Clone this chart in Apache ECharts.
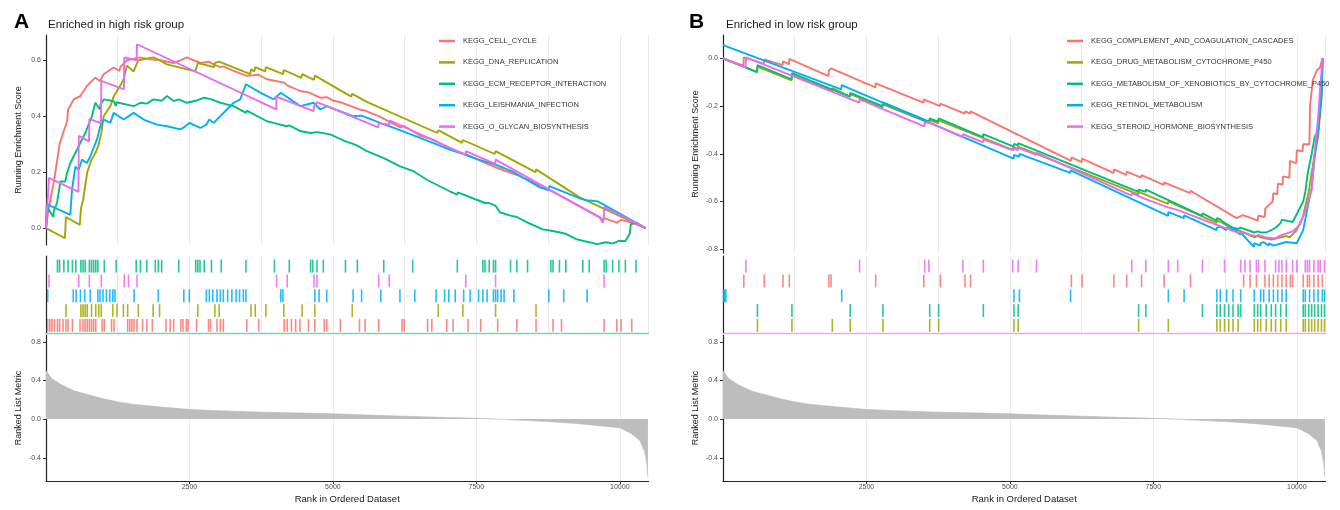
<!DOCTYPE html>
<html><head><meta charset="utf-8">
<script src="https://cdn.jsdelivr.net/npm/echarts@6/dist/echarts.min.js"></script>
<style>html,body{margin:0;padding:0;background:#fff}#c{width:1340px;height:510px}</style>
</head><body><div id="c"></div><script>
// ---------- categories / names ----------
const namesA = ['KEGG_CELL_CYCLE','KEGG_DNA_REPLICATION','KEGG_ECM_RECEPTOR_INTERACTION','KEGG_LEISHMANIA_INFECTION','KEGG_O_GLYCAN_BIOSYNTHESIS'];
const namesB = ['KEGG_COMPLEMENT_AND_COAGULATION_CASCADES','KEGG_DRUG_METABOLISM_CYTOCHROME_P450','KEGG_METABOLISM_OF_XENOBIOTICS_BY_CYTOCHROME_P450','KEGG_RETINOL_METABOLISM','KEGG_STEROID_HORMONE_BIOSYNTHESIS'];
const palette = ['#F8766D','#A3A500','#00BF7D','#00B0F6','#E76BF3'];
const xTickLabels = [2500,5000,7500,10000];
const yTicksTopA = [0,0.2,0.4,0.6];
const yTicksTopB = [-0.8,-0.6,-0.4,-0.2,0];
const yTicksMetric = [-0.4,0,0.4,0.8];

// ---------- Panel A running enrichment scores [rank, ES] ----------
const esA_CELL_CYCLE = [[0,0],[30,0.05],[67,0.09],[104,0.13],[148,0.18],[200,0.25],[237,0.3],[297,0.34],[366,0.38],[385,0.424],[482,0.46],[598,0.472],[714,0.508],[859,0.538],[940,0.526],[1005,0.55],[1179,0.574],[1280,0.562],[1295,0.575],[1411,0.6],[1643,0.61],[1818,0.603],[1992,0.6],[2224,0.59],[2350,0.6],[2456,0.61],[2689,0.59],[2832,0.595],[2921,0.585],[3037,0.575],[3091,0.578],[3269,0.562],[3502,0.544],[3706,0.548],[3850,0.532],[4151,0.52],[4203,0.51],[4431,0.49],[4574,0.485],[4779,0.466],[4892,0.468],[5011,0.455],[5130,0.45],[5463,0.424],[5560,0.42],[5797,0.4],[6173,0.36],[6242,0.365],[6521,0.33],[6724,0.318],[7044,0.285],[7354,0.26],[7576,0.24],[7872,0.215],[8206,0.19],[8540,0.16],[8836,0.13],[9650,0.04],[9700,0.02],[9726,0.036],[9948,0.02],[10023,0.03],[10208,0.02],[10450,0]];
const esA_DNA_REPLICATION = [[0,0],[330,-0.036],[348,0.04],[590,0.012],[608,0.07],[645,0.1],[682,0.15],[719,0.2],[793,0.245],[867,0.27],[919,0.3],[964,0.34],[1005,0.4],[1121,0.436],[1179,0.47],[1295,0.51],[1349,0.53],[1411,0.58],[1527,0.56],[1609,0.6],[1868,0.61],[1979,0.6],[2108,0.585],[2600,0.56],[2646,0.59],[2930,0.575],[2943,0.59],[3017,0.595],[3560,0.55],[3573,0.568],[3630,0.56],[3647,0.575],[3820,0.56],[3832,0.575],[4130,0.55],[4144,0.565],[4450,0.537],[4463,0.55],[4670,0.53],[4685,0.545],[5320,0.47],[5337,0.48],[5600,0.45],[6820,0.34],[6835,0.35],[7250,0.305],[7265,0.315],[7820,0.265],[7835,0.275],[8530,0.2],[8540,0.21],[9300,0.11],[10450,0]];
const esA_ECM_RECEPTOR = [[0,0.02],[10,0.078],[130,0.04],[134,0.06],[192,0.09],[250,0.167],[337,0.167],[366,0.197],[424,0.233],[540,0.28],[627,0.317],[685,0.34],[801,0.4],[859,0.448],[940,0.424],[947,0.44],[1005,0.46],[1179,0.454],[1220,0.436],[1223,0.45],[1527,0.436],[1572,0.44],[1643,0.448],[1757,0.445],[1876,0.46],[2016,0.455],[2108,0.472],[2224,0.454],[2313,0.46],[2456,0.448],[2609,0.455],[2631,0.46],[2758,0.466],[2884,0.46],[3037,0.448],[3054,0.455],[3269,0.436],[3484,0.412],[3500,0.42],[3850,0.382],[3981,0.375],[3990,0.382],[4198,0.364],[4240,0.367],[4431,0.347],[4611,0.34],[4722,0.343],[4953,0.335],[5219,0.31],[5302,0.305],[5426,0.295],[5592,0.275],[5886,0.25],[5895,0.255],[6173,0.221],[6390,0.205],[6400,0.21],[6637,0.173],[7044,0.131],[7168,0.12],[7175,0.128],[7650,0.09],[7724,0.09],[7835,0.08],[7909,0.057],[8095,0.045],[8206,0.04],[8392,0.02],[8658,-0.004],[8836,-0.01],[9059,-0.02],[9250,-0.04],[9467,-0.05],[9598,-0.057],[9763,-0.05],[9874,-0.055],[9985,-0.045],[10097,-0.046],[10172,-0.02],[10190,0.014],[10282,0.02],[10450,0]];
const esA_LEISHMANIA = [[0,0],[30,0.084],[424,0.048],[453,0.137],[511,0.22],[569,0.209],[627,0.245],[714,0.233],[772,0.257],[888,0.317],[947,0.364],[1005,0.388],[1121,0.376],[1179,0.412],[1353,0.388],[1527,0.412],[1701,0.388],[1934,0.37],[2108,0.364],[2340,0.353],[2402,0.36],[2498,0.376],[2689,0.358],[2795,0.37],[2847,0.388],[2921,0.376],[3037,0.4],[3153,0.424],[3269,0.448],[3385,0.46],[3484,0.514],[3734,0.484],[3966,0.46],[4092,0.484],[4431,0.436],[4663,0.448],[4779,0.424],[4892,0.436],[5352,0.4],[5500,0.402],[5834,0.375],[6168,0.35],[6427,0.33],[6798,0.3],[7044,0.28],[7279,0.265],[7539,0.245],[7798,0.23],[7983,0.215],[8154,0.2],[8605,0.146],[8762,0.135],[8770,0.15],[9022,0.13],[9337,0.104],[9429,0.1],[9616,0.096],[10450,0]];
const esA_O_GLYCAN = [[0,0],[52,0.18],[565,0.13],[571,0.33],[750,0.31],[756,0.39],[958,0.375],[964,0.526],[1358,0.496],[1364,0.61],[1580,0.6],[1586,0.657],[4012,0.424],[4018,0.47],[4664,0.418],[4670,0.435],[4722,0.45],[5790,0.36],[5797,0.375],[5982,0.37],[5990,0.385],[7310,0.262],[7317,0.275],[7828,0.23],[7835,0.245],[9720,0.03],[9726,0.075],[10450,0]];

// ---------- Panel B running enrichment scores ----------
const esB_COMPLEMENT = [[0,0],[355,-0.03],[363,0.004],[712,-0.022],[719,-0.004],[1040,-0.028],[1045,-0.012],[1150,-0.024],[1156,-0.002],[1840,-0.074],[1846,-0.05],[1883,-0.042],[2655,-0.122],[2661,-0.105],[3492,-0.186],[3499,-0.172],[3782,-0.2],[3788,-0.19],[4212,-0.232],[4218,-0.222],[4310,-0.232],[4314,-0.222],[6065,-0.43],[6071,-0.415],[6250,-0.435],[6257,-0.42],[6805,-0.48],[6812,-0.465],[7030,-0.488],[7035,-0.475],[7288,-0.5],[7294,-0.49],[7680,-0.53],[7687,-0.52],[8140,-0.565],[8147,-0.555],[8950,-0.67],[9058,-0.657],[9185,-0.668],[9320,-0.68],[9330,-0.66],[9440,-0.665],[9450,-0.63],[9580,-0.6],[9590,-0.565],[9660,-0.57],[9670,-0.525],[9750,-0.53],[9760,-0.495],[9870,-0.5],[9880,-0.43],[9990,-0.44],[10000,-0.385],[10100,-0.39],[10110,-0.36],[10220,-0.36],[10230,-0.2],[10280,-0.09],[10350,-0.05],[10400,-0.04],[10450,0]];
const esB_DRUG_P450 = [[0,0],[595,-0.058],[600,-0.035],[1195,-0.092],[1201,-0.07],[1900,-0.135],[1905,-0.125],[2210,-0.16],[2217,-0.15],[2780,-0.205],[2787,-0.193],[3595,-0.27],[3602,-0.258],[3750,-0.272],[3758,-0.26],[5065,-0.385],[5070,-0.373],[5140,-0.38],[5144,-0.37],[7238,-0.57],[7243,-0.56],[7755,-0.61],[7761,-0.6],[8600,-0.69],[8607,-0.68],[8666,-0.685],[8740,-0.695],[8814,-0.705],[8888,-0.715],[8977,-0.72],[9259,-0.75],[9318,-0.745],[9370,-0.75],[9466,-0.755],[9555,-0.76],[9630,-0.755],[9719,-0.75],[9815,-0.745],[9877,-0.75],[10000,-0.72],[10111,-0.66],[10148,-0.62],[10208,-0.56],[10259,-0.48],[10311,-0.4],[10371,-0.33],[10430,-0.17],[10450,0]];
const esB_XENOBIOTICS = [[0,0],[595,-0.058],[600,-0.028],[1195,-0.088],[1201,-0.062],[2210,-0.16],[2217,-0.145],[2780,-0.2],[2787,-0.185],[3595,-0.265],[3602,-0.252],[3750,-0.265],[3758,-0.252],[4530,-0.33],[4537,-0.318],[5065,-0.37],[5070,-0.358],[5140,-0.365],[5144,-0.355],[7238,-0.56],[7243,-0.55],[7365,-0.56],[7369,-0.55],[8350,-0.66],[8355,-0.65],[8600,-0.68],[8607,-0.67],[8666,-0.675],[8740,-0.69],[8814,-0.7],[8888,-0.71],[8977,-0.715],[9022,-0.71],[9259,-0.73],[9318,-0.725],[9370,-0.73],[9466,-0.73],[9555,-0.72],[9630,-0.71],[9719,-0.69],[9738,-0.677],[9815,-0.68],[9929,-0.686],[10111,-0.6],[10148,-0.56],[10191,-0.48],[10259,-0.4],[10311,-0.33],[10371,-0.3],[10430,-0.15],[10450,0]];
const esB_RETINOL = [[0,0.056],[2060,-0.13],[2068,-0.112],[5065,-0.42],[5070,-0.405],[5160,-0.413],[5166,-0.4],[6050,-0.48],[6057,-0.47],[7755,-0.66],[7761,-0.645],[8030,-0.67],[8036,-0.658],[8600,-0.72],[8607,-0.71],[8666,-0.705],[8770,-0.72],[8777,-0.71],[8880,-0.72],[8888,-0.71],[9015,-0.74],[9022,-0.73],[9250,-0.79],[9259,-0.775],[9365,-0.785],[9370,-0.775],[9422,-0.77],[9510,-0.785],[9518,-0.775],[9590,-0.785],[9667,-0.78],[9741,-0.775],[9815,-0.77],[9999,-0.775],[10111,-0.72],[10191,-0.62],[10261,-0.54],[10300,-0.44],[10371,-0.3],[10430,-0.15],[10450,0]];
const esB_STEROID = [[0,0],[395,-0.038],[400,0.004],[2375,-0.186],[2380,-0.172],[3510,-0.285],[3514,-0.27],[3588,-0.268],[4175,-0.33],[4181,-0.318],[4530,-0.352],[4537,-0.34],[5040,-0.385],[5048,-0.375],[5140,-0.385],[5144,-0.375],[5460,-0.405],[5463,-0.395],[7120,-0.575],[7124,-0.565],[7365,-0.59],[7369,-0.582],[7755,-0.625],[7761,-0.617],[7920,-0.635],[7924,-0.628],[8350,-0.675],[8355,-0.667],[8735,-0.71],[8740,-0.702],[9020,-0.735],[9022,-0.727],[9096,-0.73],[9185,-0.74],[9296,-0.745],[9333,-0.74],[9444,-0.75],[9630,-0.755],[9689,-0.745],[9741,-0.74],[9815,-0.735],[9926,-0.725],[10000,-0.71],[10052,-0.697],[10148,-0.64],[10222,-0.58],[10261,-0.55],[10313,-0.385],[10371,-0.25],[10408,-0.12],[10450,0]];

// ---------- gene hit positions (rug) ----------
const rugA_CELL_CYCLE = [30,67,104,148,200,237,297,348,385,460,593,645,682,719,756,793,830,867,978,1016,1142,1186,1423,1460,1497,1534,1586,1683,1757,1853,2091,2165,2224,2350,2387,2446,2476,2624,2832,2869,2980,3039,3091,3499,3706,4151,4203,4277,4351,4425,4574,4685,4848,4892,5130,5463,5560,5797,6205,6242,6650,6724,6983,7094,7354,7576,7872,8206,8540,8836,8984,9726,9948,10023,10208];
const rugA_DNA_REPLICATION = [348,608,645,682,719,793,867,919,964,1164,1238,1349,1423,1609,1868,1979,2646,2943,3017,3573,3647,3832,4144,4463,4685,5337,6835,7265,7835,8540];
const rugA_ECM_RECEPTOR = [200,237,311,385,460,519,608,645,682,756,793,830,867,904,1016,1223,1572,1646,1757,1905,1957,2016,2313,2609,2646,2684,2758,2884,3054,3484,3981,4240,4611,4648,4722,4833,5219,5426,5886,6390,7168,7613,7650,7724,7798,7835,8095,8206,8392,8799,8836,8948,9059,9355,9467,9726,9763,9874,9985,10097,10282];
const rugA_LEISHMANIA = [30,475,526,600,674,771,904,941,993,1053,1112,1164,1201,1535,1957,2402,2498,2795,2847,2906,2980,3039,3091,3165,3239,3313,3373,3439,3484,4092,4129,4685,4759,4892,5352,5500,5834,6168,6427,6798,6946,7020,7131,7279,7391,7539,7613,7687,7798,7835,7872,7931,7983,8154,8762,9022,9429];
const rugA_O_GLYCAN = [52,571,756,964,1364,1438,1586,4018,4203,4670,4722,5797,5982,7317,7835,9726];

const rugB_COMPLEMENT = [363,719,1045,1156,1846,1883,2661,3499,3788,4218,4314,6071,6257,6812,7035,7294,7687,8147,9074,9185,9296,9444,9518,9592,9667,9741,9815,9889,9926,10111,10185,10222,10297,10371,10445];
const rugB_DRUG_P450 = [600,1201,1905,2217,2787,3602,3758,5070,5144,7243,7761,8607,8666,8740,8814,8888,8977,9259,9318,9370,9466,9555,9630,9719,9815,10111,10148,10208,10259,10311,10371,10430,10482];
const rugB_XENOBIOTICS = [600,1201,2217,2787,3602,3758,4537,5070,5144,7243,7369,8355,8607,8666,8740,8814,8888,8977,9022,9259,9318,9370,9466,9555,9630,9719,9815,10111,10148,10208,10259,10311,10371,10430,10482];
const rugB_RETINOL = [10,30,50,2068,5070,5166,6057,7761,8036,8607,8666,8777,8888,9022,9259,9370,9422,9518,9592,9667,9741,9815,10111,10148,10222,10297,10371,10445,10482];
const rugB_STEROID = [400,2380,3514,3588,4181,4537,5048,5144,5463,7124,7369,7761,7924,8355,8740,9022,9096,9185,9296,9333,9444,9630,9689,9741,9815,9926,10000,10148,10185,10222,10297,10371,10408,10482];

// ---------- ranked list metric ----------
const rankPos = [0,100,250,500,750,1000,1250,1500,2000,2500,3000,3750,4500,5000,5600,6250,7000,7500,7900,8500,8750,9250,9600,10000,10200,10350,10430,10470,10490];
const rankMetric = [0.5,0.42,0.36,0.29,0.25,0.21,0.178,0.155,0.125,0.10,0.087,0.072,0.062,0.055,0.042,0.03,0.016,0.008,0,-0.018,-0.025,-0.045,-0.065,-0.09,-0.15,-0.22,-0.33,-0.45,-0.6];

// ---------- build ----------
const esA = [esA_CELL_CYCLE, esA_DNA_REPLICATION, esA_ECM_RECEPTOR, esA_LEISHMANIA, esA_O_GLYCAN];
const esB = [esB_COMPLEMENT, esB_DRUG_P450, esB_XENOBIOTICS, esB_RETINOL, esB_STEROID];
const rugA = [rugA_CELL_CYCLE, rugA_DNA_REPLICATION, rugA_ECM_RECEPTOR, rugA_LEISHMANIA, rugA_O_GLYCAN];
const rugB = [rugB_COMPLEMENT, rugB_DRUG_P450, rugB_XENOBIOTICS, rugB_RETINOL, rugB_STEROID];
const rowA = [0,1,4,2,3];   // red bottom ... green top
const rowB = [3,0,1,2,4];   // olive bottom ... magenta top

const FONT = 'Liberation Sans, Arial, sans-serif';
const AX = '#222';
const LAB = '#4d4d4d';
const GRIDC = '#e6e6e6';
const W = 602.5;
const grids = [
  {left:46, top:35, width:W, height:210},
  {left:46, top:256, width:W, height:77},
  {left:46, top:335, width:W, height:146},
  {left:723, top:35, width:W, height:218},
  {left:723, top:256, width:W, height:77},
  {left:723, top:335, width:W, height:146}
];
function xAx(gi, kind, baseColor) {
  const o = {type:'value', gridIndex:gi, min:0, max:10500, interval:1250,
    splitLine:{show:true, lineStyle:{color:GRIDC, width:0.8}},
    axisTick:{show:false}, axisLabel:{show:false}, axisLine:{show:false}};
  if (kind === 'rug') {
    o.axisLine = {show:true, onZero:false, lineStyle:{color:baseColor, width:1.4}};
  }
  if (kind === 'bot') {
    o.axisLine = {show:true, onZero:false, lineStyle:{color:AX, width:1.2}};
    o.axisTick = {show:true, length:3, lineStyle:{color:'#333'}, customValues:xTickLabels};
    o.axisLabel = {show:true, fontSize:7, color:LAB, margin:3, fontFamily:FONT, customValues:xTickLabels, formatter:v=>String(v)};
    o.name = 'Rank in Ordered Dataset'; o.nameLocation = 'middle'; o.nameGap = 13;
    o.nameTextStyle = {fontSize:9.5, color:'#1a1a1a', fontFamily:FONT};
  }
  return o;
}
function yAx(gi, min, max, ticks, name) {
  const o = {type:'value', gridIndex:gi, min:min, max:max,
    splitLine:{show:false},
    axisLine:{show:true, onZero:false, lineStyle:{color:AX, width:1.2}},
    axisTick:{show:!!ticks, length:3, lineStyle:{color:'#333'}, customValues:ticks||undefined},
    axisLabel:{show:!!ticks, fontSize:7, color:LAB, margin:5, fontFamily:FONT, customValues:ticks||undefined, formatter:v=>v.toFixed(1)}};
  if (name) { o.name = name; o.nameLocation = 'middle'; o.nameGap = 23; o.nameTextStyle = {fontSize:9, color:'#1a1a1a', fontFamily:FONT}; }
  return o;
}
const xAxis = [xAx(0,'top'), xAx(1,'rug','#6fd9b4'), xAx(2,'bot'), xAx(3,'top'), xAx(4,'rug','#efa6f4'), xAx(5,'bot')];
const yAxis = [
  yAx(0,-0.06,0.69,yTicksTopA,'Running Enrichment Score'),
  yAx(1,0,5.2,null,null),
  yAx(2,-0.64,0.87,yTicksMetric,'Ranked List Metric'),
  yAx(3,-0.816,0.098,yTicksTopB,'Running Enrichment Score'),
  yAx(4,0,5.2,null,null),
  yAx(5,-0.64,0.87,yTicksMetric,'Ranked List Metric')
];

function rugRender(params, api) {
  const x = api.value(0), r = api.value(1);
  const p1 = api.coord([x, r + 0.08]);
  const p2 = api.coord([x, r + 0.95]);
  return {type:'line', shape:{x1:p1[0], y1:p1[1], x2:p2[0], y2:p2[1]},
    style:{stroke:api.visual('color'), lineWidth:1.6, opacity:0.85}};
}

const series = [];
function addPanel(names, es, rugs, rows, gTop, gRug, gBot, tag) {
  rugs.forEach((arr, i) => {
    series.push({type:'custom', name:tag+'rug'+i, xAxisIndex:gRug, yAxisIndex:gRug,
      renderItem:rugRender, itemStyle:{color:palette[i]}, silent:true,
      data:arr.map(x => [x, rows[i]])});
  });
  series.push({type:'line', name:tag+'metric', xAxisIndex:gBot, yAxisIndex:gBot, showSymbol:false, silent:true,
    lineStyle:{color:'#b5b5b5', width:0.6}, areaStyle:{color:'#bdbdbd', opacity:1},
    data:rankPos.map((x, k) => [x, rankMetric[k]])});
  es.forEach((arr, i) => {
    series.push({type:'line', name:names[i], xAxisIndex:gTop, yAxisIndex:gTop, showSymbol:false, silent:true,
      lineStyle:{color:palette[i], width:1.9}, itemStyle:{color:palette[i]}, data:arr});
  });
}
addPanel(namesA, esA, rugA, rowA, 0, 1, 2, 'A');
addPanel(namesB, esB, rugB, rowB, 3, 4, 5, 'B');

const legendBase = {orient:'vertical', selectedMode:false, icon:'rect', itemWidth:16, itemHeight:2.5, itemGap:13.4,
  textStyle:{fontSize:7.5, color:'#333', fontFamily:FONT, padding:[0,0,0,3]}, backgroundColor:'rgba(255,255,255,0)'};

const option = {
  animation:false,
  backgroundColor:'#ffffff',
  title:[
    {text:'A', left:9, top:7, textStyle:{fontSize:21, fontWeight:'bold', color:'#000', fontFamily:FONT}},
    {text:'Enriched in high risk group', left:43, top:14, textStyle:{fontSize:11.5, fontWeight:'normal', color:'#1a1a1a', fontFamily:FONT}},
    {text:'B', left:684, top:7, textStyle:{fontSize:21, fontWeight:'bold', color:'#000', fontFamily:FONT}},
    {text:'Enriched in low risk group', left:721, top:14, textStyle:{fontSize:11.5, fontWeight:'normal', color:'#1a1a1a', fontFamily:FONT}}
  ],
  legend:[
    Object.assign({}, legendBase, {data:namesA, left:434, top:32}),
    Object.assign({}, legendBase, {data:namesB, left:1062, top:32})
  ],
  grid:grids,
  xAxis:xAxis,
  yAxis:yAxis,
  series:series
};
const chart = echarts.init(document.getElementById('c'), null, {renderer:'canvas'});
chart.setOption(option);
</script></body></html>
